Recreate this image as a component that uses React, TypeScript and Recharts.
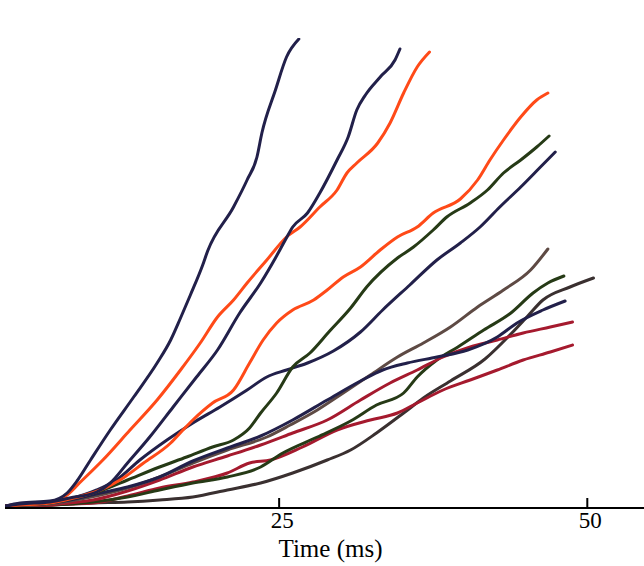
import { LineChart, Line, XAxis, YAxis } from 'recharts';

// time (ms) / displacement (arbitrary units)
const navyA = [[2.8, 2], [4.0, 5], [6.4, 7], [7.8, 15], [8.6, 27], [9.7, 48], [11.3, 78], [13.2, 111], [15.1, 145], [16.2, 168], [17.0, 190], [17.8, 213], [18.8, 243], [19.2, 257], [21.3, 301], [22.4, 328], [23.2, 351], [23.6, 375], [24.7, 418], [25.6, 451], [26.6, 469]];
const navyB = [[2.8, 2], [4.0, 4], [6.4, 6], [8.0, 10], [10.2, 16], [11.3, 25], [12.7, 45], [14.5, 71], [16.4, 101], [18.3, 131], [20.0, 158], [21.8, 195], [23.5, 225], [24.7, 250], [25.5, 268], [26.1, 281], [27.3, 295], [28.3, 315], [29.7, 348], [30.6, 371], [31.3, 398], [32.0, 413], [33.2, 431], [34.4, 448], [34.8, 459]];
const orangeC = [[2.8, 2], [4.0, 4], [6.4, 6], [7.8, 13], [8.8, 25], [10.7, 48], [12.9, 78], [15.1, 108], [17.0, 138], [18.6, 165], [20.0, 191], [21.3, 208], [22.4, 225], [24.0, 248], [25.6, 271], [26.7, 281], [28.3, 301], [29.7, 318], [30.5, 335], [31.3, 345], [33.0, 365], [34.0, 385], [35.1, 415], [36.2, 441], [37.2, 456]];
const orangeD = [[2.8, 2], [4.0, 3], [6.4, 5], [8.0, 9], [10.5, 18], [12.1, 28], [14.0, 45], [16.2, 65], [17.2, 78], [18.0, 88], [19.6, 105], [21.3, 118], [22.6, 145], [23.7, 168], [24.8, 185], [26.1, 198], [27.8, 208], [28.9, 218], [30.2, 231], [31.6, 241], [33.2, 258], [34.6, 271], [36.2, 281], [37.5, 295], [39.7, 309], [41.1, 328], [42.1, 348], [43.2, 368], [44.6, 391], [45.9, 408], [46.8, 415]];
const greenE = [[2.8, 2], [4.0, 3], [6.4, 5], [8.0, 9], [10.7, 18], [12.7, 28], [15.3, 41], [17.5, 51], [19.6, 61], [21.3, 68], [22.6, 80], [23.5, 95], [24.8, 115], [26.1, 141], [27.5, 155], [29.1, 177], [30.8, 200], [32.1, 221], [34.6, 250], [35.9, 261], [37.5, 278], [38.6, 291], [40.5, 305], [41.9, 318], [43.2, 335], [44.6, 348], [45.9, 361], [46.9, 372]];
const navyF = [[2.8, 2], [4.0, 3], [6.4, 5], [8.0, 9], [10.2, 18], [11.8, 28], [13.7, 48], [15.9, 68], [18.0, 85], [20.2, 101], [22.4, 118], [24.0, 131], [25.6, 138], [27.3, 145], [29.4, 157], [31.6, 176], [33.4, 198], [35.6, 223], [37.8, 248], [39.7, 265], [41.3, 281], [42.9, 301], [44.6, 321], [46.2, 341], [47.4, 356]];
const brownG = [[2.8, 1], [4.0, 2], [6.4, 4], [8.0, 7], [10.5, 13], [12.7, 20], [15.3, 31], [18.0, 45], [20.8, 58], [24.0, 71], [25.9, 83], [28.1, 98], [30.2, 115], [32.4, 133], [34.6, 151], [36.7, 165], [38.9, 181], [41.1, 201], [43.2, 218], [45.4, 238], [46.8, 259]];
const darkH = [[2.8, 1], [4.0, 2], [6.4, 3], [8.0, 4], [9.9, 5], [12.7, 6], [15.3, 8], [18.0, 11], [20.8, 18], [23.5, 25], [26.1, 35], [28.9, 48], [30.8, 58], [32.9, 75], [35.1, 95], [36.7, 110], [38.9, 127], [41.7, 149], [43.8, 174], [45.1, 191], [46.4, 208], [48.6, 221], [50.5, 230]];
const navyI = [[2.8, 2], [4.0, 3], [6.4, 5], [8.0, 8], [10.5, 15], [12.7, 21], [15.3, 31], [18.0, 47], [20.8, 60], [23.5, 72], [26.1, 88], [28.9, 108], [31.6, 127], [33.4, 138], [35.4, 145], [37.8, 151], [40.3, 158], [42.7, 171], [44.3, 185], [46.4, 198], [48.2, 207]];
const redJ = [[2.8, 1], [4.0, 2], [6.4, 3], [8.0, 5], [9.9, 8], [12.7, 17], [15.3, 28], [18.0, 41], [20.8, 52], [23.5, 63], [26.1, 75], [28.9, 88], [31.6, 108], [34.0, 125], [36.2, 138], [38.3, 151], [40.5, 161], [42.7, 168], [44.8, 175], [47.0, 181], [48.8, 186]];
const greenK = [[2.8, 1], [4.0, 2], [6.4, 3], [8.0, 4], [9.9, 6], [12.7, 11], [15.3, 18], [18.0, 25], [20.8, 31], [23.5, 41], [25.3, 55], [28.1, 71], [30.8, 87], [32.9, 103], [35.1, 115], [36.2, 131], [37.8, 148], [39.5, 161], [41.6, 178], [43.8, 195], [45.6, 215], [46.8, 225], [48.1, 232]];
const redL = [[2.8, 1], [4.0, 2], [6.4, 3], [8.0, 4], [9.9, 5], [12.7, 12], [15.3, 20], [18.0, 26], [20.8, 35], [22.6, 45], [24.3, 48], [26.9, 61], [29.7, 78], [32.4, 88], [34.6, 95], [36.2, 105], [38.3, 118], [40.5, 128], [42.7, 138], [44.8, 148], [47.0, 156], [48.8, 163]];

const xTicks = [25, 50];

const NAVY = '#22204a';
const ORANGE = '#ff4a18';
const GREEN = '#263a16';
const RED = '#a51a2e';
const BROWN = '#5e4a44';
const DARK = '#3a3030';

const series = [
  { id: 'h', pts: darkH, color: DARK },
  { id: 'l', pts: redL, color: RED },
  { id: 'k', pts: greenK, color: GREEN },
  { id: 'j', pts: redJ, color: RED },
  { id: 'g', pts: brownG, color: BROWN },
  { id: 'i', pts: navyI, color: NAVY },
  { id: 'f', pts: navyF, color: NAVY },
  { id: 'e', pts: greenE, color: GREEN },
  { id: 'd', pts: orangeD, color: ORANGE },
  { id: 'c', pts: orangeC, color: ORANGE },
  { id: 'b', pts: navyB, color: NAVY },
  { id: 'a', pts: navyA, color: NAVY },
];

const FONT = '"Liberation Serif", "Times New Roman", serif';

const TimeTick = ({ x, y, payload }: any) => (
  <g>
    <line x1={x} x2={x} y1={y - 10} y2={y} stroke="#000" strokeWidth={2} />
    <text x={x + 3} y={y + 20} textAnchor="middle" fontSize={23} fontFamily={FONT} fill="#000">
      {payload.value}
    </text>
  </g>
);

const AxisTitle = ({ viewBox }: any) => (
  <text x={viewBox.x + viewBox.width / 2 + 6} y={viewBox.y + 49} textAnchor="middle" fontSize={25} fontFamily={FONT} fill="#000">
    Time (ms)
  </text>
);

export default function App() {
  return (
    <div style={{ position: 'absolute', left: 0, top: 0, background: '#fff' }}>
      <LineChart width={644} height={566} margin={{ top: 38, right: 0, left: 5, bottom: 8 }}>
        <XAxis
          type="number"
          dataKey="t"
          domain={[2.76, 54.6]}
          allowDataOverflow
          ticks={xTicks}
          interval={0}
          height={50}
          tickSize={0}
          tickMargin={0}
          tickLine={false}
          axisLine={{ stroke: '#000', strokeWidth: 2 }}
          tick={<TimeTick />}
          label={<AxisTitle />}
        />
        <YAxis hide type="number" domain={[0, 470]} allowDataOverflow />
        {series.map((s) => (
          <Line
            key={s.id}
            data={s.pts.map(([t, v]) => ({ t, v }))}
            dataKey="v"
            type="monotone"
            stroke={s.color}
            strokeWidth={3}
            strokeLinecap="round"
            dot={false}
            isAnimationActive={false}
          />
        ))}
      </LineChart>
    </div>
  );
}
